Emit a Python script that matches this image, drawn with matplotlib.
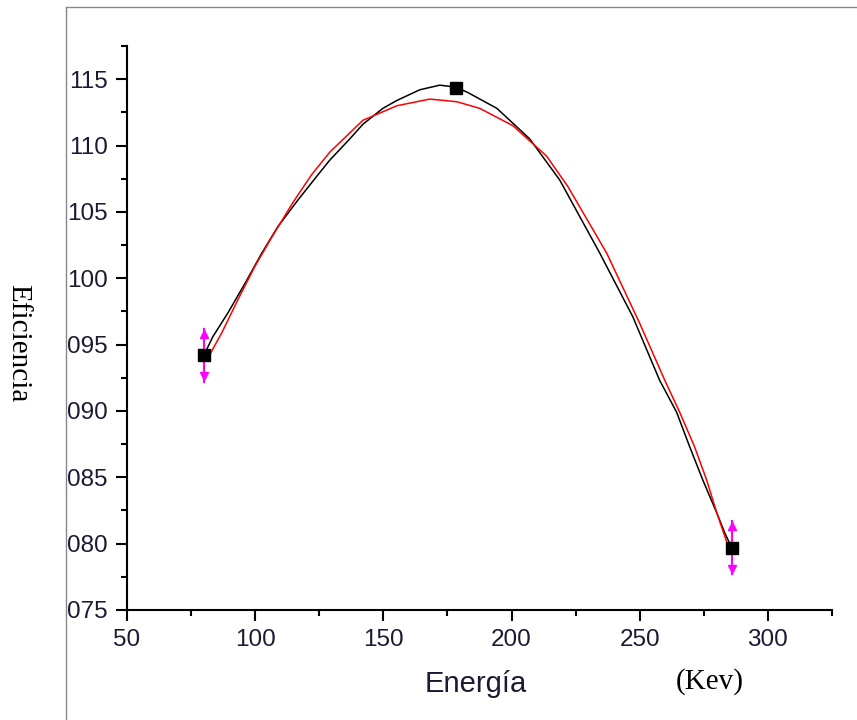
import matplotlib.pyplot as plt
from matplotlib.lines import Line2D
from matplotlib.ticker import MultipleLocator, FuncFormatter

# --- datos medidos ---
energia = [80.0, 178.3, 285.9]
eficiencia = [94.2, 114.3, 79.7]
error = [2.0, 0.0, 2.0]

# curva negra (spline)
negra_x = [80.0, 83.5, 89.4, 96.0, 102.6, 108.9, 116.7, 124.1, 129.1, 136.9,
           142.0, 149.8, 155.3, 164.2, 172.0, 178.3, 182.9, 194.3, 207.1, 218.8,
           234.4, 247.3, 257.8, 264.4, 269.5, 274.6, 280.1, 283.2, 285.9]
negra_y = [94.2, 95.6, 97.4, 99.6, 101.9, 103.9, 105.9, 107.7, 108.9, 110.5,
           111.6, 112.8, 113.4, 114.2, 114.55, 114.4, 114.0, 112.8, 110.5, 107.4,
           101.9, 97.1, 92.3, 89.9, 87.3, 84.8, 82.3, 80.8, 79.7]

# curva roja (ajuste)
roja_x = [81.0, 87.0, 93.3, 99.9, 106.5, 114.7, 122.0, 129.1, 142.0, 155.3,
          168.1, 178.7, 187.6, 200.5, 213.7, 222.0, 237.1, 250.0, 259.8, 265.6,
          271.4, 276.1, 280.1, 284.0]
roja_y = [93.8, 95.9, 98.4, 100.9, 103.1, 105.7, 107.8, 109.5, 111.9, 113.0,
          113.5, 113.3, 112.8, 111.5, 109.2, 106.9, 101.9, 96.6, 92.3, 89.9,
          87.3, 84.8, 82.3, 80.1]

fig = plt.figure(figsize=(8.57, 7.2), dpi=100)
ax = fig.add_axes([0.1482, 0.1528, 0.8226, 0.7833])

ax.plot(negra_x, negra_y, color='black', lw=1.1, zorder=2)
ax.plot(roja_x, roja_y, color='red', lw=1.1, zorder=3)

# barras de error magenta con puntas de flecha
for x, y, e in zip(energia, eficiencia, error):
    if e > 0:
        ax.plot([x, x], [y - e, y + e], color='magenta', lw=1.5, zorder=4)
        ax.plot(x, y + e - 0.4, marker='^', color='magenta', ms=6, zorder=4)
        ax.plot(x, y - e + 0.4, marker='v', color='magenta', ms=6, zorder=4)

ax.plot(energia, eficiencia, 's', color='black', ms=9, zorder=5)

ax.set_xlim(50, 325)
ax.set_ylim(75, 117.5)
ax.xaxis.set_major_locator(MultipleLocator(50))
ax.xaxis.set_minor_locator(MultipleLocator(25))
ax.yaxis.set_major_locator(MultipleLocator(5))
ax.yaxis.set_minor_locator(MultipleLocator(2.5))
ax.yaxis.set_major_formatter(FuncFormatter(lambda v, p: '%03d' % round(v)))

for s in ['top', 'right']:
    ax.spines[s].set_visible(False)
for s in ['left', 'bottom']:
    ax.spines[s].set_linewidth(1.5)

ax.tick_params(which='major', direction='out', length=8, width=1.5,
               labelsize=17.5, pad=6, labelcolor='#1a1a33')
ax.tick_params(which='minor', direction='out', length=4, width=1.5)
for lab in ax.get_xticklabels() + ax.get_yticklabels():
    lab.set_fontfamily('Liberation Sans')

# textos
fig.text(476 / 857, 1 - 684 / 720, 'Energía', fontsize=21,
         family='Liberation Sans', ha='center', va='center', color='#1a1a33')
fig.text(710 / 857, 1 - 682 / 720, '(Kev)', fontsize=21,
         family='Liberation Serif', ha='center', va='center')
fig.text(18 / 857, 1 - 343 / 720, 'Eficiencia', fontsize=21, rotation=270,
         family='Liberation Serif', ha='center', va='center')

# marco gris
fig.add_artist(Line2D([66 / 857, 66 / 857], [0, 1 - 7 / 720],
                      color='#888888', lw=1, transform=fig.transFigure))
fig.add_artist(Line2D([66 / 857, 1], [1 - 7 / 720, 1 - 7 / 720],
                      color='#888888', lw=1, transform=fig.transFigure))

fig.savefig('out.png', dpi=100)
